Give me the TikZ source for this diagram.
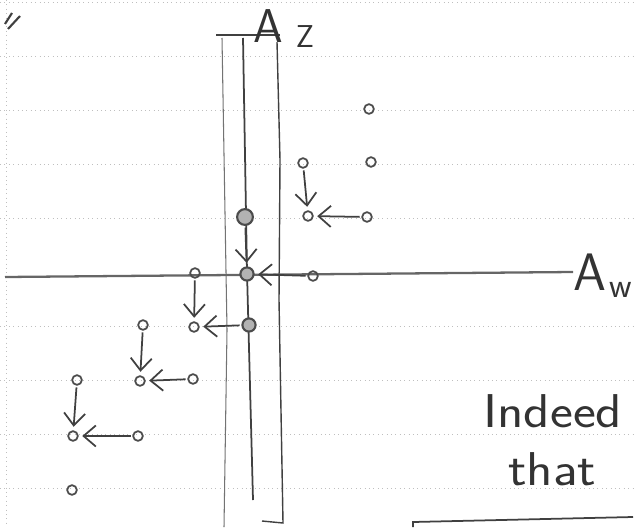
\documentclass[tikz,border=0pt]{standalone}
\usetikzlibrary{arrows.meta}
\begin{document}
\begin{tikzpicture}[x=0.02cm, y=-0.02cm, >={Straight Barb[length=7pt, width=12pt]}]

% Styles
\tikzset{
  pencil/.style={black!75, line width=0.8pt},
  rule/.style={black!25, dotted, line width=0.5pt},
  dot/.style={circle, draw=black!70, line width=1pt, inner sep=0pt, minimum size=5.5pt},
  bigdot/.style={dot, fill=black!30, line width=1.2pt, minimum size=7.5pt},
  move/.style={pencil, line width=1pt, ->, shorten <=1pt, shorten >=2pt},
  hand/.style={font=\sffamily\fontsize{27}{27}\selectfont, inner sep=0pt, text=black!80}
}

\useasboundingbox (0,0) rectangle (634,527);

% Ruled paper
\foreach \y in {2,56,110,164,218,326,380,434,488}
  \draw[rule] (0,\y) -- (634,\y);
\draw[rule] (6,0) -- (6,527);

% Ditto mark
\draw[pencil, line width=1.2pt] (5,24) -- (12,13);
\draw[pencil, line width=1.2pt] (8,29) -- (20,16);

% Strip round the z axis
\draw[pencil, line width=0.6pt] (216,35) -- (280,35);
\draw[black!55, line width=0.6pt] (222,38) -- (227,330) -- (224,527);
\draw[pencil] (277,42) -- (280,160) -- (279,300) -- (283,523) -- (262,521);

% Axes
\coordinate (wL) at (5,277);
\coordinate (wR) at (573,272);
\coordinate (zT) at (243,38);
\coordinate (zM) at (247,272);
\coordinate (zB) at (253,500);
\draw[black!60, line width=1.3pt] (wL) -- (wR);
\draw[pencil, line width=1pt] (zT) -- (zM) -- (zB);

% Axis labels
\node[hand, anchor=south] (Az) at (268,43) {A};
\node[hand, font=\sffamily\fontsize{18}{18}\selectfont, anchor=south] (zlab) at (305,48) {Z};
\node[hand, font=\sffamily\fontsize{30}{30}\selectfont, anchor=south] (Aw) at (590,291) {A};
\node[hand, font=\sffamily\fontsize{20}{20}\selectfont, anchor=base] (wlab) at (621,297) {w};

% Points
\node[dot] (p1) at (369,109) {};
\node[dot] (p2) at (371,162) {};
\node[dot] (a1) at (303,163) {};
\node[dot] (a2) at (308,216) {};
\node[dot] (a3) at (367,217) {};
\node[bigdot, minimum size=9pt] (b1) at (245,217) {};
\node[bigdot] (c) at (247,274) {};
\node[dot] (c3) at (313,276) {};
\node[dot] (d1) at (195,273) {};
\node[dot] (d2) at (194,327) {};
\node[bigdot] (d3) at (249,325) {};
\node[dot] (e1) at (143,325) {};
\node[dot] (e2) at (140,381) {};
\node[dot] (e3) at (193,379) {};
\node[dot] (f1) at (77,380) {};
\node[dot] (f2) at (73,436) {};
\node[dot] (f3) at (138,436) {};
\node[dot] (g) at (72,490) {};

% Moves
\draw[move] (a1) -- (a2);
\draw[move] (a3) -- (a2);
\draw[move] (b1) -- (c);
\draw[move] (c3) -- (c);
\draw[move] (d1) -- (d2);
\draw[move] (d3) -- (d2);
\draw[move] (e1) -- (e2);
\draw[move] (e3) -- (e2);
\draw[move] (f1) -- (f2);
\draw[move] (f3) -- (f2);

% Text
\node[hand, anchor=base west] (t1) at (483,427) {\scalebox{1.15}[1]{Indeed}};
\node[hand, anchor=base west] (t2) at (508,485) {\scalebox{1.15}[1]{that}};

% Box below
\draw[pencil, line width=1pt] (413,527) -- (413,522) -- (633,517);

\end{tikzpicture}
\end{document}
